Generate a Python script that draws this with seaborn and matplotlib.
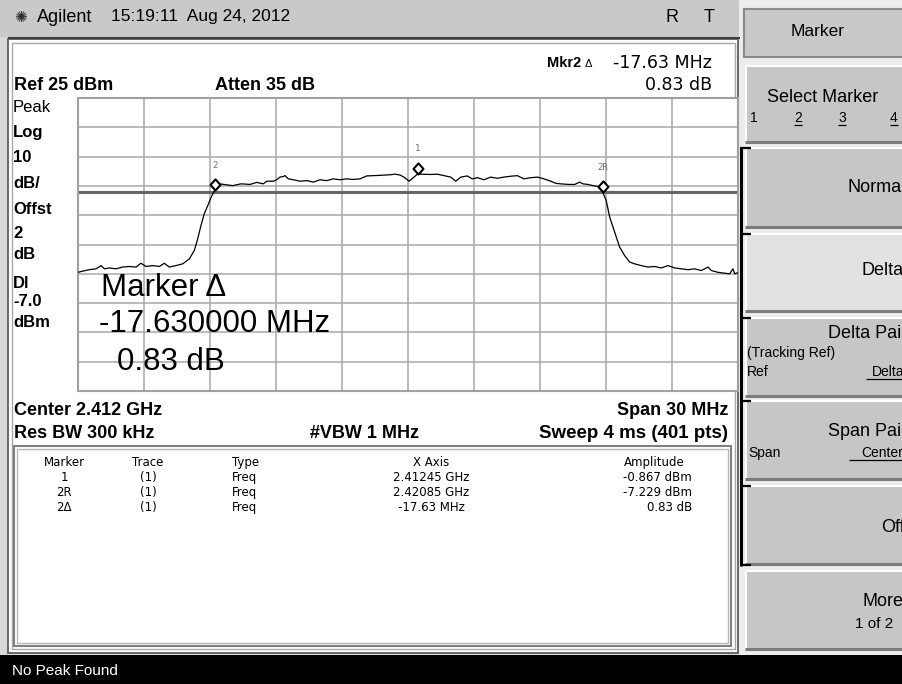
import numpy as np
import pandas as pd
import matplotlib
matplotlib.use("Agg")
import matplotlib.pyplot as plt
import seaborn as sns
from matplotlib.patches import Rectangle
from matplotlib.path import Path

W, H = 902, 684

# analyzer settings
center_mhz = 2412.0
span_mhz = 30.0
ref_dbm = 25.0
db_per_div = 10.0
display_line_dbm = -7.0

# trace: offset from centre (MHz) and level (dBm)
trace_offset_mhz = [
    -15.00, -14.79, -14.49, -14.18, -13.95, -13.80, -13.58, -13.27, -12.97, -12.67,
    -12.36, -12.14, -11.91, -11.60, -11.30, -11.08, -10.85, -10.55, -10.24, -9.94,
    -9.71, -9.56, -9.41, -9.26, -9.10, -8.95, -8.78, -8.58, -8.27, -7.97,
    -7.59, -7.18, -6.88, -6.58, -6.42, -6.12, -5.97, -5.82, -5.67, -5.59,
    -5.44, -5.21, -4.91, -4.60, -4.30, -4.00, -3.70, -3.40, -3.09, -2.79,
    -2.49, -2.18, -1.88, -1.58, -1.27, -1.05, -0.82, -0.59, -0.36, -0.14,
    0.05, 0.45, 0.58, 1.03, 1.33, 1.64, 1.94, 2.17, 2.40, 2.70,
    2.92, 3.15, 3.45, 3.76, 4.06, 4.36, 4.67, 4.97, 5.27, 5.58,
    5.88, 6.18, 6.49, 6.71, 6.94, 7.32, 7.58, 7.80, 7.95, 8.18,
    8.41, 8.64, 8.85, 9.01, 9.17, 9.32, 9.47, 9.62, 9.85, 10.08,
    10.30, 10.60, 10.91, 11.21, 11.51, 11.82, 12.12, 12.42, 12.73, 13.03,
    13.33, 13.64, 13.79, 14.09, 14.40, 14.62, 14.77, 14.85, 15.00,
]
trace_dbm = [
    -34.5, -34.1, -33.6, -33.3, -32.2, -33.3, -33.0, -33.3, -32.7, -32.5,
    -32.7, -31.4, -32.5, -32.2, -32.5, -31.4, -32.7, -32.2, -31.6, -29.9,
    -27.0, -23.1, -18.5, -14.5, -11.7, -8.9, -6.4, -4.3, -4.6, -4.9,
    -4.3, -4.5, -3.8, -4.3, -3.4, -3.4, -2.9, -2.0, -1.8, -1.5,
    -2.6, -2.9, -3.4, -3.2, -3.7, -2.9, -3.2, -2.6, -2.9, -2.6,
    -2.8, -2.6, -1.6, -1.5, -1.4, -1.3, -1.2, -1.0, -1.3, -2.2,
    -3.4, -0.87, -1.0, -1.1, -1.0, -1.5, -2.0, -3.4, -2.0, -1.6,
    -2.6, -2.2, -2.9, -2.0, -2.4, -2.0, -1.7, -1.5, -2.6, -2.2,
    -2.0, -2.6, -3.4, -4.1, -4.3, -4.5, -4.5, -3.7, -4.3, -4.5,
    -4.9, -5.2, -7.2, -10.0, -15.7, -19.1, -22.5, -25.9, -28.8, -31.0,
    -31.6, -32.2, -32.7, -32.5, -33.0, -32.2, -33.0, -33.3, -33.6, -33.3,
    -33.9, -32.7, -33.9, -34.5, -34.8, -35.0, -33.3, -35.0, -34.6,
]

marker_names = ["1", "2", "2R"]
marker_freq_ghz = [2.41245, 2.40322, 2.42085]
marker_dbm = [-0.867, -6.40, -7.229]

table_header = ["Marker", "Trace", "Type", "X Axis", "Amplitude"]
table_markers = ["1", "2R", "2Δ"]
table_traces = ["(1)", "(1)", "(1)"]
table_types = ["Freq", "Freq", "Freq"]
table_xaxis = ["2.41245 GHz", "2.42085 GHz", "-17.63 MHz"]
table_amplitude = ["-0.867 dBm", "-7.229 dBm", "0.83 dB"]

left_labels = ["Peak", "Log", "10", "dB/", "Offst", "2", "dB", "Dl", "-7.0", "dBm"]

sns.set_theme(style="white")
plt.rcParams["font.family"] = ["Liberation Sans", "DejaVu Sans"]

REG = ["Liberation Sans", "DejaVu Sans"]
WIDE = ["DejaVu Sans"]

fig = plt.figure(figsize=(W / 100, H / 100), dpi=100)
fig.patch.set_facecolor("#d8d8d8")

bg = fig.add_axes([0, 0, 1, 1])
bg.set_xlim(0, W)
bg.set_ylim(H, 0)
bg.axis("off")


def box(x, y, w, h, **kw):
    bg.add_patch(Rectangle((x, y), w, h, **kw))


def line(xs, ys, **kw):
    bg.plot(xs, ys, solid_capstyle="butt", **kw)


def txt(x, y, s, **kw):
    kw.setdefault("va", "center")
    kw.setdefault("color", "black")
    return fig.text(x / W, 1 - y / H, s, **kw)


# title bar
box(0, 0, 740, 37, fc="#c9c9c9", ec="none")
line([8, 740], [37.5, 37.5], color="#404040", lw=1.5)
txt(14, 17, "✺", fontsize=11, family=WIDE, color="#303030")
txt(37, 17, "Agilent", fontsize=13, family=REG)
txt(111, 17, "15:19:11  Aug 24, 2012", fontsize=12.5, family=REG)
txt(672, 17, "R", fontsize=13, family=REG, ha="center")
txt(709, 17, "T", fontsize=13, family=REG, ha="center")

# main white panel
box(8, 39, 730, 614, fc="white", ec="#606060", lw=1.3)
box(12, 43, 723, 606, fc="none", ec="#a8a8a8", lw=1.0)

# right softkey panel
box(739, 0, 170, 655, fc="#ececec", ec="none")
box(744, 9, 165, 48, fc="#c8c8c8", ec="#8a8a8a", lw=1.5)
txt(818, 32, "Marker", fontsize=12.5, family=REG, ha="center")

keys = [
    (65, 143, "#c6c6c6"),
    (147, 228, "#c6c6c6"),
    (233, 312, "#e2e2e2"),
    (317, 397, "#c6c6c6"),
    (400, 480, "#c6c6c6"),
    (485, 565, "#c6c6c6"),
    (570, 650, "#c6c6c6"),
]
for y0, y1, fc in keys:
    box(745, y0, 165, y1 - y0, fc=fc, ec="none")
    line([745, 902], [y0 + 0.5, y0 + 0.5], color="white", lw=1.5)
    line([745.5, 745.5], [y0, y1], color="white", lw=1.5)
    line([745, 902], [y1 - 1, y1 - 1], color="#7c7c7c", lw=2.2)

# grouping bracket
line([741, 741], [147, 566], color="black", lw=2.2)
for yt in [147, 233, 317, 400, 485]:
    line([740, 751], [yt + 1, yt + 1], color="black", lw=1.6)
line([740, 751], [565, 565], color="black", lw=1.6)

txt(823, 97, "Select Marker", fontsize=13, family=REG, ha="center")
for xk, k in zip([754, 798, 842, 894], ["1", "2", "3", "4"]):
    txt(xk, 118, k, fontsize=10, family=REG, ha="center")
    if k != "1":
        line([xk - 4, xk + 4], [125, 125], color="black", lw=0.9)
txt(906, 188, "Normal", fontsize=13, family=REG, ha="right")
txt(904, 271, "Delta", fontsize=13, family=REG, ha="right")
txt(907, 334, "Delta Pair", fontsize=13, family=REG, ha="right")
txt(791, 353, "(Tracking Ref)", fontsize=10, family=REG, ha="center")
txt(747, 372, "Ref", fontsize=10, family=REG)
txt(904, 372, "Delta", fontsize=10, family=REG, ha="right")
line([866, 902], [379, 379], color="black", lw=0.9)
txt(907, 431, "Span Pair", fontsize=13, family=REG, ha="right")
txt(748, 453, "Span", fontsize=10, family=REG)
txt(903, 453, "Center", fontsize=10, family=REG, ha="right")
line([849, 902], [460, 460], color="black", lw=0.9)
txt(905, 528, "Off", fontsize=13, family=REG, ha="right")
txt(904, 601, "More", fontsize=13, family=REG, ha="right")
txt(893, 624, "1 of 2", fontsize=11, family=REG, ha="right")

# message bar
box(0, 655, W, 29, fc="black", ec="none")
txt(12, 671, "No Peak Found", fontsize=11, family=REG, color="white")

# annotation around the graticule
txt(547, 63, "Mkr2", fontsize=10.5, family=REG, fontweight="bold")
txt(585, 64, "Δ", fontsize=8, family=REG)
txt(712, 63, "-17.63 MHz", fontsize=12.5, family=WIDE, ha="right")
txt(14, 85, "Ref 25 dBm", fontsize=13, family=REG, fontweight="bold")
txt(215, 85, "Atten 35 dB", fontsize=13, family=REG, fontweight="bold")
txt(712, 85, "0.83 dB", fontsize=12.5, family=WIDE, ha="right")

left_y = [108, 133, 158, 183, 209, 233, 255, 284, 301, 322]
for s, yl in zip(left_labels, left_y):
    txt(13, yl, s, fontsize=12, family=REG,
        fontweight="normal" if s == "Peak" else "bold")

txt(14, 410, "Center 2.412 GHz", fontsize=13, family=REG, fontweight="bold")
txt(728, 410, "Span 30 MHz", fontsize=13, family=REG, fontweight="bold", ha="right")
txt(14, 433, "Res BW 300 kHz", fontsize=13, family=REG, fontweight="bold")
txt(310, 433, "#VBW 1 MHz", fontsize=13, family=REG, fontweight="bold")
txt(728, 433, "Sweep 4 ms (401 pts)", fontsize=13.5, family=REG, fontweight="bold", ha="right")

# marker table
box(14, 446, 717, 200, fc="white", ec="#808080", lw=1.5)
box(17, 449, 711, 194, fc="none", ec="#b8b8b8", lw=1.0)
col_x = [64, 148, 232, 431, 654]
col_ha = ["center", "center", "left", "center", "center"]
for s, xc, ha in zip(table_header, col_x, col_ha):
    txt(xc, 466, s, fontsize=8.5, family=WIDE, ha=ha, va="baseline")
for i in range(len(table_markers)):
    yr = 481 + 15 * i
    txt(64, yr, table_markers[i], fontsize=8.5, family=WIDE, ha="center", va="baseline")
    txt(148, yr, table_traces[i], fontsize=8.5, family=WIDE, ha="center", va="baseline")
    txt(232, yr, table_types[i], fontsize=8.5, family=WIDE, va="baseline")
    txt(431, yr, table_xaxis[i], fontsize=8.5, family=WIDE, ha="center", va="baseline")
    txt(692, yr, table_amplitude[i], fontsize=8.5, family=WIDE, ha="right", va="baseline")

# graticule + trace
ax = fig.add_axes([78 / W, 1 - 391 / H, 660 / W, 293 / H])
ax.set_zorder(2)
f_lo = (center_mhz - span_mhz / 2) / 1000
f_hi = (center_mhz + span_mhz / 2) / 1000
a_lo = ref_dbm - 10 * db_per_div
ax.set_xlim(f_lo, f_hi)
ax.set_ylim(a_lo, ref_dbm)
ax.set_xticks(np.linspace(f_lo, f_hi, 11))
ax.set_yticks(np.linspace(a_lo, ref_dbm, 11))
ax.tick_params(length=0, labelbottom=False, labelleft=False)
ax.grid(True, color="#a8a8a8", lw=1.1)
ax.set_axisbelow(True)
for sp in ax.spines.values():
    sp.set_color("#a0a0a0")
    sp.set_linewidth(1.5)

df = pd.DataFrame({
    "freq_ghz": (center_mhz + np.array(trace_offset_mhz)) / 1000,
    "dbm": trace_dbm,
})
ax.axhline(display_line_dbm, color="#666666", lw=2.2, zorder=2)
sns.lineplot(data=df, x="freq_ghz", y="dbm", ax=ax, color="black", lw=0.9,
             zorder=3, estimator=None)
ax.set_xlabel("")
ax.set_ylabel("")

# diamond marker whose lower tip sits on the trace point
diamond = Path([(0, 0), (0.45, 0.5), (0, 1), (-0.45, 0.5), (0, 0)],
               [Path.MOVETO, Path.LINETO, Path.LINETO, Path.LINETO, Path.CLOSEPOLY])
ax.plot(marker_freq_ghz, marker_dbm, ls="none", marker=diamond, ms=16,
        mfc="white", mec="black", mew=1.5, zorder=4)
for name, f, d in zip(marker_names, marker_freq_ghz, marker_dbm):
    ax.annotate(name, (f, d), xytext=(0, 18), textcoords="offset points",
                ha="center", va="center", fontsize=6.5,
                family=["DejaVu Sans Mono"], color="#707070", zorder=5)

# big marker readout
txt(101, 288, "Marker Δ", fontsize=22.5, family=REG, zorder=6)
txt(99, 324, "-17.630000 MHz", fontsize=22.5, family=REG, zorder=6)
txt(117, 362, "0.83 dB", fontsize=22.5, family=REG, zorder=6)

fig.savefig("out.png", dpi=100, facecolor=fig.get_facecolor())
